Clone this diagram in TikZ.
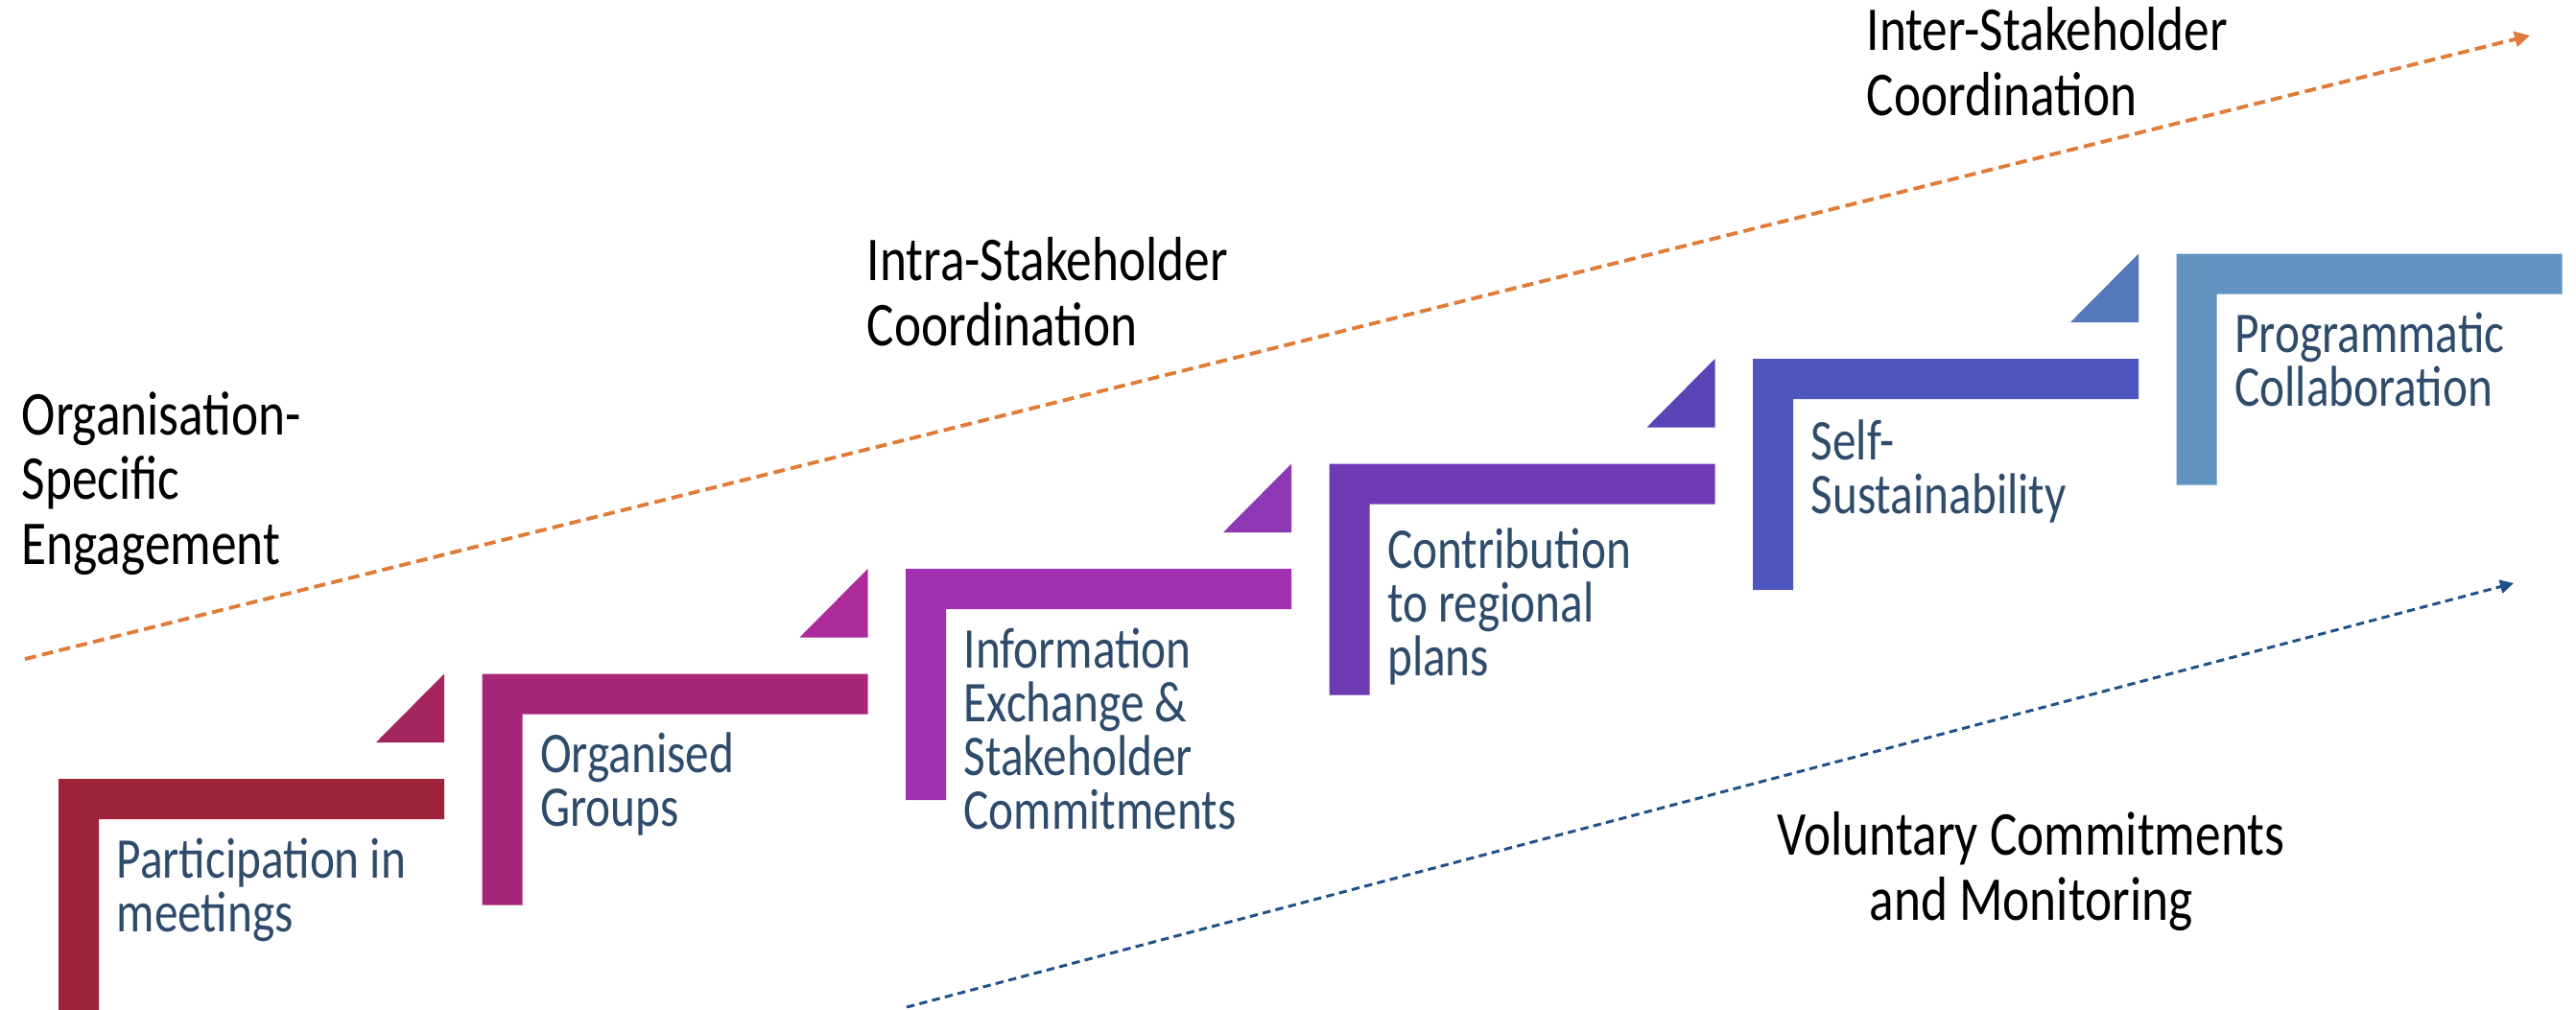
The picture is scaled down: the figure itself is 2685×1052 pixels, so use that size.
\documentclass[tikz,border=0pt]{standalone}
\usepackage{fontspec}
\setmainfont{Carlito}[FakeStretch=0.82]
\usetikzlibrary{arrows.meta}

\definecolor{stepA}{HTML}{9E2238}
\definecolor{stepB}{HTML}{A8267A}
\definecolor{stepC}{HTML}{A030B0}
\definecolor{stepD}{HTML}{6E3BB4}
\definecolor{stepE}{HTML}{4C56BC}
\definecolor{stepF}{HTML}{6194C0}
\definecolor{triA}{HTML}{A4245C}
\definecolor{triB}{HTML}{AC2C9C}
\definecolor{triC}{HTML}{8E38B4}
\definecolor{triD}{HTML}{5A44B8}
\definecolor{triE}{HTML}{5577BC}
\definecolor{labelblue}{HTML}{2E4B6B}
\definecolor{trackorange}{HTML}{E07B39}
\definecolor{trackblue}{HTML}{1F5288}

\tikzset{
  steptext/.style={anchor=base west, align=left, inner sep=0pt, text=labelblue,
    font=\fontsize{17.1}{15.9}\selectfont},
  stagetext/.style={anchor=base west, align=left, inner sep=0pt, text=black,
    font=\fontsize{18.5}{19.1}\selectfont},
  track/.style={line width=1.1pt, dash pattern=on 3.4pt off 1.8pt,
    -{Triangle[length=4.5pt,width=4.5pt]}}
}

\begin{document}
\begin{tikzpicture}[x=0.1mm, y=-0.1mm]
\useasboundingbox (0,0) rectangle (2685,1052);

% Steps
\foreach \i/\col in {0/stepA, 1/stepB, 2/stepC, 3/stepD, 4/stepE, 5/stepF} {
  \pgfmathsetmacro\xs{61+441.5*\i}
  \pgfmathsetmacro\ys{812-109.5*\i}
  \fill[\col] (\xs,\ys+241) -- (\xs,\ys) -- (\xs+402,\ys) -- (\xs+402,\ys+42)
    -- (\xs+42,\ys+42) -- (\xs+42,\ys+241) -- cycle;
}

% Small wedges between the steps
\foreach \i/\col in {0/triA, 1/triB, 2/triC, 3/triD, 4/triE} {
  \pgfmathsetmacro\xs{61+441.5*\i}
  \pgfmathsetmacro\ys{812-109.5*\i}
  \fill[\col] (\xs+402,\ys-109.5) -- (\xs+402,\ys-38) -- (\xs+331,\ys-38) -- cycle;
}

% Step labels (placed at the baseline of their last line)
\node[steptext] (participation) at (121,971) {Participation in\\meetings};
\node[steptext] (groups) at (562.5,861.5) {Organised\\Groups};
\node[steptext] (exchange) at (1004,864) {Information\\Exchange \&\\Stakeholder\\Commitments};
\node[steptext] (regional) at (1445.5,704) {Contribution\\to regional\\plans};
\node[steptext] (selfsust) at (1887,535) {Self-\\Sustainability};
\node[steptext] (programmatic) at (2328.5,423) {Programmatic\\Collaboration};

% Stage labels
\node[stagetext] (orgspecific) at (22,588) {Organisation-\\Specific\\Engagement};
\node[stagetext] (intra) at (903,360) {Intra-Stakeholder\\Coordination};
\node[stagetext] (inter) at (1945,120) {Inter-Stakeholder\\Coordination};
\node[stagetext, anchor=base, align=center] (voluntary) at (2117,959) {Voluntary Commitments\\and Monitoring};

% Trend lines
\coordinate (orgstart) at (26,687);
\coordinate (orgend) at (2637,37);
\draw[track, trackorange] (orgstart) -- (orgend);
\coordinate (volstart) at (945,1050);
\coordinate (volend) at (2620,608);
\draw[track, trackblue, line width=0.85pt, dash pattern=on 2.4pt off 1.5pt,
  -{Triangle[length=4pt,width=4pt]}] (volstart) -- (volend);
\end{tikzpicture}
\end{document}
